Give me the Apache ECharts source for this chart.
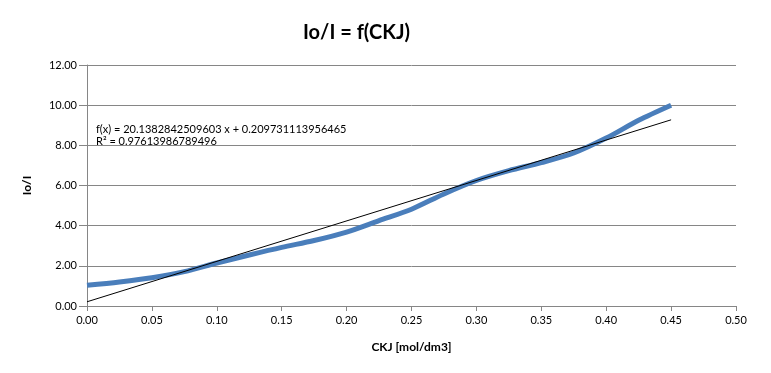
<!DOCTYPE html>
<html>
<head>
<meta charset="utf-8">
<script src="https://cdn.jsdelivr.net/npm/echarts@6/dist/echarts.min.js"></script>
<style>html,body{margin:0;padding:0;background:#fff}#c{width:771px;height:373px}</style>
</head>
<body>
<div id="c"></div>
<script>
var ckj = [0, 0.025, 0.05, 0.075, 0.10, 0.125, 0.15, 0.175, 0.20, 0.225, 0.25, 0.275, 0.30, 0.325, 0.35, 0.375, 0.40, 0.425, 0.45];
var ioI = [1.03, 1.20, 1.41, 1.71, 2.14, 2.54, 2.92, 3.26, 3.68, 4.25, 4.82, 5.58, 6.25, 6.74, 7.14, 7.62, 8.36, 9.25, 10.00];
var trendX = [0, 0.45];
var trendY = [0.21, 9.27];
var xTicks = [0, 0.05, 0.10, 0.15, 0.20, 0.25, 0.30, 0.35, 0.40, 0.45, 0.50];
var yTicks = [0, 2, 4, 6, 8, 10, 12];
var titleText = 'Io/I = f(CKJ)';
var eqText = 'f(x) = 20.1382842509603 x + 0.209731113956465';
var r2Text = 'R\u00B2 = 0.97613986789496';

var FONT = 'Lato, "Liberation Sans", sans-serif';
var chart = echarts.init(document.getElementById('c'));
chart.setOption({
  animation: false,
  title: {text: titleText, left: 298, top: 18,
    textStyle: {fontFamily: FONT, fontSize: 20, fontWeight: 'bold', color: '#000'}},
  grid: {left: 87, right: 35, top: 65, bottom: 67},
  xAxis: {type: 'value', min: xTicks[0], max: xTicks[xTicks.length-1], interval: 0.05,
    name: 'CKJ [mol/dm3]', nameLocation: 'middle', nameGap: 35,
    nameTextStyle: {fontFamily: FONT, fontSize: 12, fontWeight: 'bold', color: '#000'},
    axisLine: {lineStyle: {color: '#868686'}},
    axisTick: {length: 5, lineStyle: {color: '#868686'}},
    splitLine: {show: false},
    axisLabel: {fontFamily: FONT, fontSize: 11, color: '#000', margin: 9,
      formatter: function(v){return v.toFixed(2);}}},
  yAxis: {type: 'value', min: yTicks[0], max: yTicks[yTicks.length-1], interval: 2,
    name: 'Io/I', nameLocation: 'middle', nameGap: 54,
    nameTextStyle: {fontFamily: FONT, fontSize: 12, fontWeight: 'bold', color: '#000'},
    axisLine: {show: true, lineStyle: {color: '#868686'}},
    axisTick: {show: true, length: 8, lineStyle: {color: '#868686'}},
    splitLine: {lineStyle: {color: '#868686'}},
    axisLabel: {fontFamily: FONT, fontSize: 11, color: '#000', margin: 10,
      formatter: function(v){return v.toFixed(2);}}},
  series: [
    {type: 'line', data: ckj.map(function(x,i){return [x, ioI[i]];}),
      showSymbol: false, smooth: 0.3, lineStyle: {color: '#4a7ebb', width: 5}, z: 2},
    {type: 'line', data: trendX.map(function(x,i){return [x, trendY[i]];}),
      showSymbol: false, lineStyle: {color: '#000', width: 1}, z: 3}
  ],
  graphic: [
    {type: 'text', left: 96, top: 124, style: {text: eqText, font: '11px ' + FONT, fill: '#000'}},
    {type: 'text', left: 96, top: 136, style: {text: r2Text, font: '11px ' + FONT, fill: '#000'}}
  ]
});
</script>
</body>
</html>
